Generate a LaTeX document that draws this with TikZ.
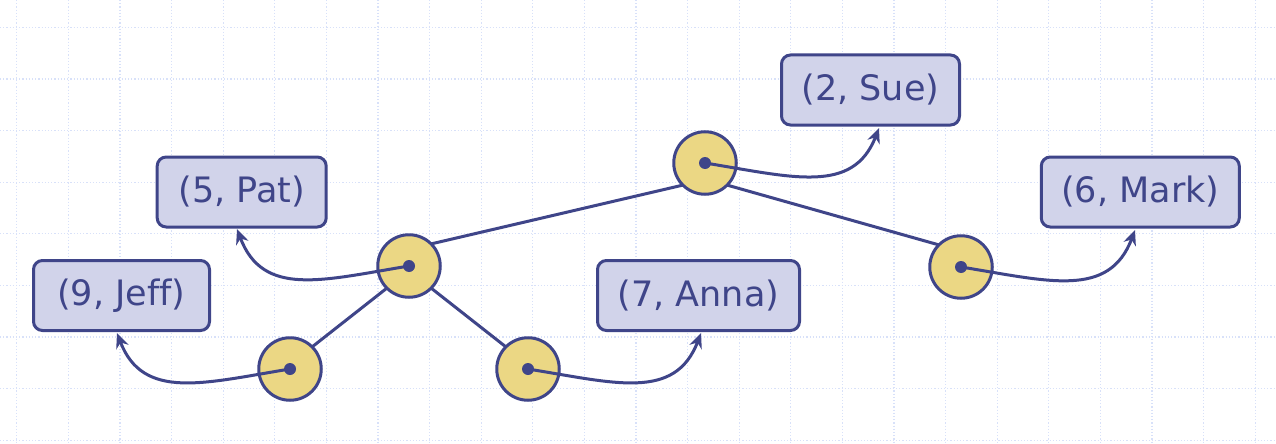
\documentclass[tikz,border=0pt]{standalone}
\usepackage{fontspec}
\setmainfont{DejaVu Sans}[Ligatures={NoCommon}]
\usetikzlibrary{arrows.meta}
\definecolor{ink}{HTML}{3F4589}
\definecolor{boxfill}{HTML}{D1D3EA}
\definecolor{nodefill}{HTML}{EBD784}
\definecolor{gridc}{HTML}{D8E1F9}
\begin{document}
\begin{tikzpicture}[x=1pt,y=-1pt,
  entry/.style={draw=ink, fill=boxfill, line width=3pt, rounded corners=9pt,
    text=ink, font=\fontsize{35}{40}\selectfont, minimum height=70pt, inner sep=0pt},
  tnode/.style={circle, draw=ink, fill=nodefill, line width=3pt, minimum size=62.5pt, inner sep=0pt, outer sep=0pt},
  dotc/.style={circle, fill=ink, minimum size=12pt, inner sep=0pt},
  treeedge/.style={draw=ink, line width=3pt},
  refarrow/.style={draw=ink, line width=3pt, -{Stealth[length=15pt,width=13pt]}}]
\useasboundingbox (0,0) rectangle (1276,444);
\fill[white] (0,0) rectangle (1276,444);
% grid
\foreach \i in {0,...,24} {
  \draw[gridc, line width=1.2pt, dotted] (16.7+51.6*\i,0) -- (16.7+51.6*\i,444);
}
\foreach \j in {0,...,8} {
  \draw[gridc, line width=1.2pt, dotted] (0,27.4+51.6*\j) -- (1276,27.4+51.6*\j);
}
% boxes
\node[entry, minimum width=178pt] (sue)  at (870.5,90)   {(2, Sue)};
\node[entry, minimum width=169pt] (pat)  at (241.7,192)  {(5, Pat)};
\node[entry, minimum width=198pt] (mark) at (1140.3,192) {(6, Mark)};
\node[entry, minimum width=176pt] (jeff) at (121.5,295.5) {(9, Jeff)};
\node[entry, minimum width=202pt] (anna) at (698.5,295.5) {(7, Anna)};
% tree nodes
\node[tnode] (root) at (705,163) {};
\node[tnode] (lft)  at (409,266) {};
\node[tnode] (rgt)  at (961,267) {};
\node[tnode] (ll)   at (290,369) {};
\node[tnode] (lr)   at (528,369) {};
% tree edges
\draw[treeedge] (root.south west) -- (lft.north east);
\draw[treeedge] (root.south east) -- (rgt.north west);
\draw[treeedge] (lft.south west) -- (ll.north east);
\draw[treeedge] (lft.south east) -- (lr.north west);
% tip coordinates
\coordinate (sueT)  at (879,128);
\coordinate (patT)  at (237,229);
\coordinate (markT) at (1135,230);
\coordinate (jeffT) at (117,333);
\coordinate (annaT) at (701,333);
% reference arrows
\draw[refarrow] (root.center) .. controls (792,177) and (853,195) .. (sueT);
\draw[refarrow] (lft.center) .. controls (323,280) and (263,298) .. (patT);
\draw[refarrow] (rgt.center) .. controls (1048,281) and (1109,299) .. (markT);
\draw[refarrow] (ll.center) .. controls (204,383) and (143,401) .. (jeffT);
\draw[refarrow] (lr.center) .. controls (615,383) and (675,401) .. (annaT);
% dots
\node[dotc] (rootd) at (root.center) {};
\node[dotc] (lftd)  at (lft.center) {};
\node[dotc] (rgtd)  at (rgt.center) {};
\node[dotc] (lld)   at (ll.center) {};
\node[dotc] (lrd)   at (lr.center) {};
\end{tikzpicture}
\end{document}
